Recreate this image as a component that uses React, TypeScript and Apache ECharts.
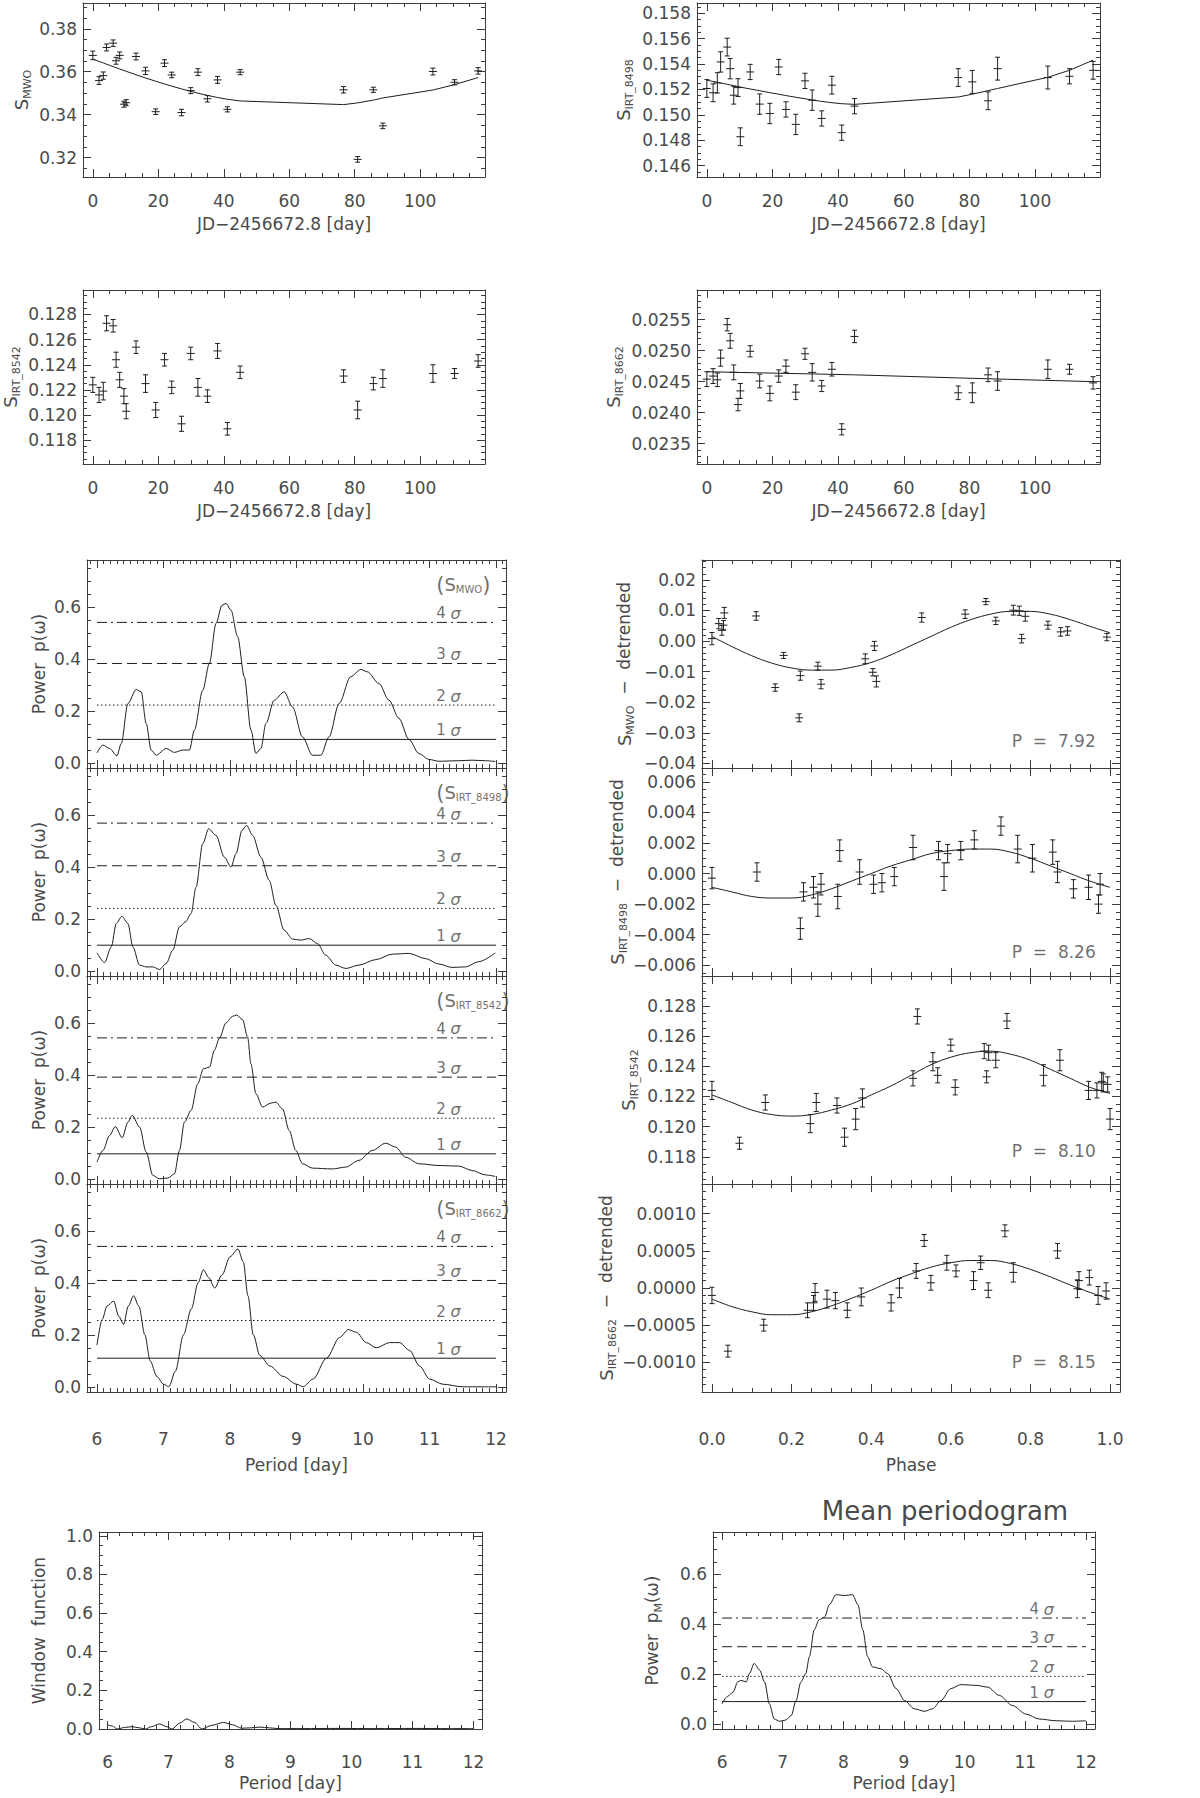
import React, { useEffect, useRef } from "react";
import * as echarts from "echarts";

// ---------------- Time series (JD - 2456672.8) ----------------
const TIMES = [0, 1.9, 3.2, 4.2, 6.2, 7.1, 8.2, 9.5, 10.2, 13.2, 16.1, 19.2, 21.9, 24.1, 27.1, 29.9, 32.1, 35.0, 38.1, 41.1, 45.0, 76.6, 80.9, 85.7, 88.6, 103.9, 110.5, 117.7];

const S_MWO = [0.3676, 0.3559, 0.3582, 0.3713, 0.3733, 0.3651, 0.3676, 0.3449, 0.3456, 0.3671, 0.3604, 0.3414, 0.3640, 0.3585, 0.3410, 0.3512, 0.3598, 0.3474, 0.3562, 0.3425, 0.3598, 0.3516, 0.3192, 0.3516, 0.3348, 0.3601, 0.3551, 0.3604];
const S_MWO_ERR = [0.0020, 0.0018, 0.0017, 0.0016, 0.0015, 0.0016, 0.0016, 0.0014, 0.0014, 0.0016, 0.0017, 0.0013, 0.0016, 0.0013, 0.0015, 0.0014, 0.0016, 0.0015, 0.0016, 0.0012, 0.0012, 0.0015, 0.0013, 0.0012, 0.0013, 0.0016, 0.0012, 0.0015];
const S_MWO_TREND = [0.3659, 0.3648, 0.3641, 0.3635, 0.3624, 0.3619, 0.3613, 0.3606, 0.3602, 0.3586, 0.3571, 0.3556, 0.3543, 0.3533, 0.3520, 0.3509, 0.3500, 0.3490, 0.3480, 0.3472, 0.3464, 0.3447, 0.3455, 0.3468, 0.3478, 0.3515, 0.3540, 0.3573];

const S_8498 = [0.15207, 0.15173, 0.15251, 0.15416, 0.15533, 0.15363, 0.15154, 0.15214, 0.14827, 0.15337, 0.15084, 0.15010, 0.15376, 0.15042, 0.14924, 0.15267, 0.15115, 0.14971, 0.15233, 0.14859, 0.15068, 0.15293, 0.15259, 0.15110, 0.15363, 0.15293, 0.15303, 0.15350];
const S_8498_ERR = [0.0007, 0.0007, 0.0008, 0.0008, 0.0007, 0.0008, 0.0007, 0.0007, 0.0007, 0.0006, 0.0008, 0.0008, 0.0006, 0.0006, 0.0008, 0.0006, 0.0008, 0.0006, 0.0007, 0.0006, 0.0006, 0.0007, 0.0009, 0.0007, 0.0009, 0.0009, 0.0006, 0.0007];
const S_8498_TREND = [0.15272, 0.15262, 0.15256, 0.15250, 0.15240, 0.15235, 0.15229, 0.15222, 0.15218, 0.15203, 0.15189, 0.15174, 0.15162, 0.15151, 0.15138, 0.15126, 0.15116, 0.15105, 0.15095, 0.15087, 0.15082, 0.15140, 0.15162, 0.15190, 0.15207, 0.15295, 0.15350, 0.15430];

const S_8542 = [0.1224, 0.1216, 0.1219, 0.1273, 0.1271, 0.1244, 0.1228, 0.1215, 0.1203, 0.1254, 0.1225, 0.1204, 0.1244, 0.1222, 0.1193, 0.1249, 0.1222, 0.1215, 0.1251, 0.1189, 0.1234, 0.1231, 0.1204, 0.1225, 0.1229, 0.1233, 0.1233, 0.1243];
const S_8542_ERR = [0.0006, 0.0006, 0.0007, 0.0006, 0.0005, 0.0006, 0.0006, 0.0006, 0.0006, 0.0005, 0.0007, 0.0006, 0.0005, 0.0005, 0.0006, 0.0005, 0.0007, 0.0005, 0.0006, 0.0005, 0.0005, 0.0005, 0.0007, 0.0005, 0.0007, 0.0007, 0.0004, 0.0005];

const S_8662 = [0.02454, 0.02459, 0.02453, 0.02488, 0.02542, 0.02516, 0.02465, 0.02413, 0.02435, 0.02499, 0.02451, 0.02431, 0.02459, 0.02475, 0.02433, 0.02495, 0.02465, 0.02443, 0.02470, 0.02373, 0.02523, 0.02432, 0.02432, 0.02461, 0.02451, 0.02470, 0.02470, 0.02448];
const S_8662_ERR = [0.00012, 0.00012, 0.00011, 0.00013, 0.00010, 0.00012, 0.00012, 0.00010, 0.00012, 0.00009, 0.00011, 0.00012, 0.00010, 0.00010, 0.00012, 0.00009, 0.00014, 0.00009, 0.00011, 0.00009, 0.00010, 0.00011, 0.00016, 0.00011, 0.00015, 0.00015, 0.00008, 0.00010];
const TREND_8662_T = [0, 45, 76.6, 117.7];
const TREND_8662_V = [0.02466, 0.02461, 0.02456, 0.02450];

// ---------------- Periodograms ----------------
const PER_MWO = [6.0, 6.09, 6.19, 6.30, 6.365, 6.465, 6.59, 6.665, 6.74, 6.815, 6.89, 7.04, 7.165, 7.29, 7.39, 7.465, 7.59, 7.69, 7.79, 7.88, 7.94, 8.015, 8.115, 8.215, 8.315, 8.39, 8.465, 8.54, 8.665, 8.815, 8.94, 9.09, 9.24, 9.365, 9.49, 9.64, 9.815, 9.965, 10.065, 10.24, 10.39, 10.54, 10.69, 10.84, 10.99, 11.14, 11.44, 11.64, 11.84, 11.99];
const POW_MWO = [0.038, 0.068, 0.055, 0.027, 0.074, 0.228, 0.282, 0.273, 0.151, 0.049, 0.029, 0.055, 0.040, 0.049, 0.049, 0.126, 0.279, 0.382, 0.536, 0.606, 0.613, 0.587, 0.485, 0.331, 0.126, 0.036, 0.055, 0.151, 0.241, 0.273, 0.215, 0.100, 0.029, 0.029, 0.100, 0.228, 0.331, 0.359, 0.350, 0.305, 0.241, 0.171, 0.090, 0.036, 0.013, 0.006, 0.008, 0.010, 0.008, 0.005];
const SIG_MWO = [0.090, 0.222, 0.382, 0.540];

const PER_8498 = [6.0, 6.115, 6.215, 6.29, 6.375, 6.465, 6.54, 6.64, 6.74, 6.84, 6.94, 7.04, 7.14, 7.24, 7.33, 7.415, 7.49, 7.59, 7.68, 7.79, 7.915, 8.015, 8.09, 8.18, 8.25, 8.34, 8.465, 8.59, 8.69, 8.815, 8.94, 9.065, 9.19, 9.315, 9.44, 9.59, 9.74, 9.94, 10.19, 10.44, 10.69, 10.94, 11.14, 11.34, 11.54, 11.74, 11.99];
const POW_8498 = [0.069, 0.032, 0.092, 0.182, 0.210, 0.182, 0.092, 0.022, 0.015, 0.015, 0.005, 0.028, 0.079, 0.169, 0.188, 0.220, 0.322, 0.489, 0.546, 0.521, 0.437, 0.399, 0.450, 0.540, 0.559, 0.521, 0.437, 0.348, 0.252, 0.156, 0.122, 0.118, 0.124, 0.105, 0.060, 0.022, 0.009, 0.022, 0.043, 0.064, 0.067, 0.047, 0.026, 0.013, 0.015, 0.035, 0.069];
const SIG_8498 = [0.0985, 0.240, 0.404, 0.568];

const PER_8542 = [6.0, 6.09, 6.19, 6.275, 6.38, 6.465, 6.53, 6.64, 6.74, 6.84, 6.94, 7.065, 7.165, 7.24, 7.315, 7.415, 7.515, 7.6, 7.69, 7.765, 7.84, 7.94, 8.04, 8.1, 8.19, 8.265, 8.315, 8.39, 8.49, 8.615, 8.69, 8.79, 8.89, 8.99, 9.09, 9.24, 9.54, 9.74, 9.94, 10.14, 10.34, 10.49, 10.64, 10.84, 11.14, 11.44, 11.64, 11.84, 11.99];
const POW_8542 = [0.064, 0.109, 0.167, 0.201, 0.158, 0.218, 0.244, 0.199, 0.103, 0.013, 0.000, 0.003, 0.019, 0.109, 0.218, 0.263, 0.365, 0.423, 0.429, 0.494, 0.540, 0.600, 0.625, 0.630, 0.612, 0.545, 0.442, 0.327, 0.276, 0.291, 0.295, 0.269, 0.186, 0.109, 0.058, 0.041, 0.038, 0.045, 0.071, 0.109, 0.137, 0.122, 0.083, 0.058, 0.051, 0.049, 0.032, 0.015, 0.009];
const SIG_8542 = [0.096, 0.233, 0.391, 0.542];

const PER_8662 = [6.0, 6.08, 6.15, 6.25, 6.33, 6.4, 6.47, 6.55, 6.63, 6.72, 6.8, 6.9, 7.0, 7.08, 7.18, 7.3, 7.42, 7.52, 7.6, 7.68, 7.77, 7.88, 8.0, 8.12, 8.2, 8.27, 8.35, 8.45, 8.6, 8.8, 9.0, 9.1, 9.25, 9.45, 9.65, 9.78, 9.9, 10.05, 10.2, 10.4, 10.55, 10.7, 10.85, 11.0, 11.2, 11.5, 11.8, 12.0];
const POW_8662 = [0.16, 0.26, 0.31, 0.33, 0.27, 0.24, 0.31, 0.35, 0.31, 0.20, 0.10, 0.04, 0.01, 0.00, 0.06, 0.20, 0.30, 0.40, 0.45, 0.42, 0.38, 0.43, 0.50, 0.53, 0.48, 0.35, 0.20, 0.12, 0.08, 0.04, 0.01, 0.00, 0.03, 0.11, 0.19, 0.22, 0.21, 0.17, 0.15, 0.17, 0.17, 0.14, 0.08, 0.03, 0.01, 0.00, 0.00, 0.00];
const SIG_8662 = [0.110, 0.255, 0.409, 0.540];

const PER_WIN = [6.0, 6.08, 6.16, 6.28, 6.4, 6.52, 6.62, 6.72, 6.85, 6.97, 7.06, 7.18, 7.3, 7.42, 7.55, 7.7, 7.9, 8.05, 8.2, 8.35, 8.5, 8.65, 8.8, 9.2, 9.8, 10.4, 11.0, 11.6, 12.0];
const POW_WIN = [0.022, 0.015, 0.0, 0.008, 0.012, 0.006, 0.0, 0.012, 0.026, 0.012, 0.0, 0.030, 0.052, 0.035, 0.0, 0.018, 0.034, 0.022, 0.004, 0.006, 0.010, 0.006, 0.002, 0.002, 0.003, 0.002, 0.003, 0.002, 0.002];

const PER_MEAN = [6.0, 6.09, 6.18, 6.26, 6.31, 6.40, 6.45, 6.53, 6.62, 6.70, 6.78, 6.86, 6.95, 7.05, 7.14, 7.22, 7.30, 7.38, 7.44, 7.52, 7.60, 7.69, 7.77, 7.88, 8.02, 8.15, 8.24, 8.32, 8.40, 8.48, 8.62, 8.73, 8.87, 9.01, 9.17, 9.34, 9.47, 9.61, 9.77, 9.94, 10.19, 10.38, 10.57, 10.79, 11.01, 11.23, 11.51, 11.78, 12.0];
const POW_MEAN = [0.081, 0.111, 0.128, 0.169, 0.175, 0.169, 0.202, 0.243, 0.216, 0.169, 0.081, 0.020, 0.011, 0.016, 0.034, 0.094, 0.169, 0.202, 0.270, 0.378, 0.418, 0.429, 0.479, 0.519, 0.515, 0.519, 0.479, 0.378, 0.270, 0.229, 0.222, 0.202, 0.142, 0.094, 0.061, 0.051, 0.061, 0.094, 0.142, 0.158, 0.155, 0.148, 0.115, 0.074, 0.040, 0.020, 0.013, 0.011, 0.013];
const SIG_MEAN = [0.090, 0.191, 0.310, 0.425];

// ---------------- Phase-folded data ----------------
const PH_MWO = [0.000, 0.017, 0.025, 0.029, 0.031, 0.111, 0.159, 0.180, 0.219, 0.222, 0.266, 0.274, 0.385, 0.404, 0.408, 0.413, 0.527, 0.636, 0.688, 0.713, 0.757, 0.772, 0.778, 0.787, 0.844, 0.876, 0.893, 0.992];
const DT_MWO = [0.0008, 0.0057, 0.0035, 0.0052, 0.0092, 0.0082, -0.0152, -0.0047, -0.0251, -0.0113, -0.0082, -0.0141, -0.0058, -0.0102, -0.0016, -0.0132, 0.0077, 0.0088, 0.0129, 0.0066, 0.0101, 0.0099, 0.0008, 0.0081, 0.0052, 0.0030, 0.0033, 0.0013];
const DT_MWO_ERR = [0.0020, 0.0017, 0.0016, 0.0015, 0.0018, 0.0014, 0.0012, 0.0010, 0.0013, 0.0015, 0.0013, 0.0015, 0.0016, 0.0012, 0.0015, 0.0018, 0.0015, 0.0014, 0.0010, 0.0012, 0.0016, 0.0015, 0.0014, 0.0016, 0.0013, 0.0014, 0.0014, 0.0012];
const FIT_PH = [0.00, 0.05, 0.10, 0.15, 0.20, 0.25, 0.30, 0.35, 0.40, 0.45, 0.50, 0.55, 0.60, 0.65, 0.70, 0.75, 0.80, 0.85, 0.90, 0.95, 1.00];
const FIT_MWO = [0.0015, -0.0018, -0.0048, -0.0072, -0.0088, -0.0095, -0.0095, -0.0086, -0.0070, -0.0045, -0.0015, 0.0015, 0.0045, 0.0070, 0.0088, 0.0097, 0.0097, 0.0088, 0.0070, 0.0048, 0.0027];

const PH_8498 = [0.000, 0.113, 0.222, 0.230, 0.255, 0.266, 0.274, 0.316, 0.321, 0.371, 0.406, 0.427, 0.458, 0.505, 0.569, 0.583, 0.592, 0.625, 0.659, 0.726, 0.768, 0.805, 0.856, 0.868, 0.908, 0.946, 0.971, 0.975];
const DT_8498 = [-0.0003, 0.0001, -0.0036, -0.0012, -0.0009, -0.0020, -0.0007, -0.0015, 0.0015, 0.0001, -0.0007, -0.0006, -0.0002, 0.0017, 0.0015, -0.0002, 0.0013, 0.0015, 0.0022, 0.0031, 0.0016, 0.0010, 0.0014, 0.0001, -0.0010, -0.0009, -0.0020, -0.0007];
const DT_8498_ERR = [0.0007, 0.0006, 0.0007, 0.0006, 0.0007, 0.0008, 0.0007, 0.0008, 0.0007, 0.0008, 0.0006, 0.0006, 0.0006, 0.0008, 0.0006, 0.0009, 0.0006, 0.0006, 0.0006, 0.0006, 0.0009, 0.0009, 0.0008, 0.0007, 0.0006, 0.0008, 0.0006, 0.0007];
const FIT_8498 = [-0.0009, -0.0012, -0.0015, -0.0016, -0.0016, -0.0014, -0.0010, -0.0005, 0.0000, 0.0005, 0.0009, 0.0013, 0.0015, 0.0016, 0.0016, 0.0014, 0.0010, 0.0005, 0.0000, -0.0005, -0.0009];

const PH_8542 = [0.000, 0.069, 0.134, 0.247, 0.262, 0.314, 0.333, 0.361, 0.378, 0.505, 0.516, 0.555, 0.567, 0.600, 0.611, 0.684, 0.690, 0.695, 0.713, 0.741, 0.833, 0.874, 0.946, 0.967, 0.979, 0.983, 0.994, 1.000];
const DT_8542 = [0.1224, 0.1189, 0.1216, 0.1202, 0.1216, 0.1214, 0.1193, 0.1205, 0.1219, 0.1232, 0.1273, 0.1243, 0.1234, 0.1254, 0.1226, 0.1250, 0.1233, 0.1249, 0.1244, 0.1270, 0.1234, 0.1244, 0.1224, 0.1224, 0.1230, 0.1229, 0.1228, 0.1205];
const DT_8542_ERR = [0.0006, 0.0004, 0.0005, 0.0006, 0.0006, 0.0005, 0.0006, 0.0007, 0.0006, 0.0005, 0.0005, 0.0006, 0.0005, 0.0004, 0.0005, 0.0005, 0.0004, 0.0005, 0.0005, 0.0005, 0.0007, 0.0007, 0.0006, 0.0005, 0.0006, 0.0006, 0.0005, 0.0007];
const FIT_8542 = [0.1221, 0.1216, 0.1211, 0.1208, 0.1207, 0.1208, 0.1211, 0.1215, 0.1221, 0.1227, 0.1234, 0.1241, 0.1246, 0.1249, 0.1250, 0.1248, 0.1244, 0.1238, 0.1232, 0.1226, 0.1222];

const PH_8662 = [0.000, 0.040, 0.130, 0.240, 0.255, 0.259, 0.289, 0.310, 0.340, 0.375, 0.450, 0.471, 0.513, 0.533, 0.550, 0.590, 0.613, 0.657, 0.675, 0.694, 0.736, 0.757, 0.868, 0.918, 0.922, 0.948, 0.970, 0.990];
const DT_8662 = [-0.00010, -0.00085, -0.00050, -0.00030, -0.00020, -0.00006, -0.00015, -0.00017, -0.00030, -0.00012, -0.00020, 0.00000, 0.00023, 0.00064, 0.00007, 0.00034, 0.00023, 0.00010, 0.00034, -0.00003, 0.00077, 0.00021, 0.00050, -0.00001, 0.00010, 0.00014, -0.00010, -0.00004];
const DT_8662_ERR = [0.00011, 0.00008, 0.00008, 0.00010, 0.00010, 0.00012, 0.00012, 0.00011, 0.00010, 0.00012, 0.00011, 0.00013, 0.00010, 0.00008, 0.00010, 0.00010, 0.00008, 0.00012, 0.00009, 0.00010, 0.00008, 0.00013, 0.00010, 0.00012, 0.00012, 0.00010, 0.00012, 0.00011];
const FIT_8662 = [-0.00015, -0.00025, -0.00032, -0.00036, -0.00036, -0.00032, -0.00024, -0.00014, -0.00003, 0.00009, 0.00019, 0.00028, 0.00034, 0.00037, 0.00037, 0.00033, 0.00025, 0.00015, 0.00004, -0.00006, -0.00015];

const PERIODS_FOUND = ["7.92", "8.26", "8.10", "8.15"];

// ---------------- Styling ----------------
const FONT = "'DejaVu Sans', 'Liberation Sans', sans-serif";
const TXT = "#4a4a4a";
const INK = "#1e1e1e";
const FRAME = "#3c3c3c";

const RICH: any = {
  s: { fontSize: 18, lineHeight: 24, color: TXT, fontFamily: FONT },
  sub: { fontSize: 11, lineHeight: 12, verticalAlign: "bottom", color: TXT, fontFamily: FONT },
  t: { fontSize: 17, lineHeight: 24, color: TXT, fontFamily: FONT },
  p: { fontSize: 21, lineHeight: 20, color: TXT, fontFamily: FONT },
  ps: { fontSize: 18, lineHeight: 18, color: TXT, fontFamily: FONT },
  psub: { fontSize: 10, lineHeight: 9, verticalAlign: "bottom", color: TXT, fontFamily: FONT },
  i: { fontSize: 16, fontStyle: "italic", color: TXT, fontFamily: FONT },
};

function zip(xs: number[], ys: number[]) {
  const n = Math.min(xs.length, ys.length);
  const out: number[][] = [];
  for (let i = 0; i < n; i++) out.push([xs[i], ys[i]]);
  return out;
}

type AxisCfg = {
  min: number; max: number; step: number; minor: number; dec: number;
  name?: string; nameGap?: number; margin?: number; labels?: boolean;
};

function buildOption() {
  const grid: any[] = [];
  const xAxis: any[] = [];
  const yAxis: any[] = [];
  const series: any[] = [];
  const graphic: any[] = [];

  const fmt = (c: AxisCfg) => (v: number) => {
    const k = v / c.step;
    if (Math.abs(k - Math.round(k)) > 1e-6) return "";
    const val = Math.abs(v) < c.step * 1e-6 ? 0 : v;
    return val.toFixed(c.dec).replace("-", "\u2212");
  };

  const axis = (dim: "x" | "y", pos: string, gi: number, c: AxisCfg, primary: boolean) => ({
    type: "value",
    gridIndex: gi,
    position: pos,
    min: c.min,
    max: c.max,
    minInterval: c.step,
    maxInterval: c.step,
    splitNumber: Math.max(1, Math.round((c.max - c.min) / c.step)),
    axisLine: { show: true, onZero: false, lineStyle: { color: FRAME, width: 1 } },
    axisTick: { show: true, inside: true, length: 8, lineStyle: { color: FRAME, width: 1 } },
    minorTick: { show: true, splitNumber: c.minor, length: 4, lineStyle: { color: FRAME, width: 1 } },
    splitLine: { show: false },
    minorSplitLine: { show: false },
    axisLabel: {
      show: primary && c.labels !== false,
      margin: c.margin ?? (dim === "y" ? 6 : 15),
      fontSize: 17,
      color: TXT,
      fontFamily: FONT,
      formatter: fmt(c),
    },
    name: primary ? c.name : undefined,
    nameLocation: "middle",
    nameGap: c.nameGap ?? 30,
    nameRotate: dim === "y" ? 90 : 0,
    nameTextStyle: { fontSize: 17, color: TXT, fontFamily: FONT, rich: RICH },
  });

  const panel = (rect: number[], xc: AxisCfg, yc: AxisCfg) => {
    const gi = grid.length;
    grid.push({ left: rect[0], top: rect[1], width: rect[2], height: rect[3], containLabel: false, outerBoundsMode: "none" });
    const xi = xAxis.length;
    xAxis.push(axis("x", "bottom", gi, xc, true));
    xAxis.push(axis("x", "top", gi, xc, false));
    const yi = yAxis.length;
    yAxis.push(axis("y", "left", gi, yc, true));
    yAxis.push(axis("y", "right", gi, yc, false));
    return { xi, yi };
  };

  const lineS = (ax: any, xs: number[], ys: number[], extra: any = {}) => ({
    type: "line",
    xAxisIndex: ax.xi,
    yAxisIndex: ax.yi,
    data: zip(xs, ys),
    showSymbol: false,
    symbol: "none",
    silent: true,
    lineStyle: { color: INK, width: 1 },
    ...extra,
  });

  const errS = (ax: any, xs: number[], ys: number[], es: number[]) => ({
    type: "custom",
    xAxisIndex: ax.xi,
    yAxisIndex: ax.yi,
    silent: true,
    clip: true,
    encode: { x: 0, y: 1 },
    data: xs.map((x, i) => [x, ys[i], es[i]]),
    renderItem: (_p: any, api: any) => {
      const x = api.value(0), y = api.value(1), e = api.value(2);
      const c = api.coord([x, y]);
      const t = api.coord([x, y + e]);
      const b = api.coord([x, y - e]);
      const st = { stroke: INK, lineWidth: 1 };
      return {
        type: "group",
        children: [
          { type: "line", shape: { x1: c[0], y1: t[1], x2: c[0], y2: b[1] }, style: st },
          { type: "line", shape: { x1: c[0] - 2.5, y1: t[1], x2: c[0] + 2.5, y2: t[1] }, style: st },
          { type: "line", shape: { x1: c[0] - 2.5, y1: b[1], x2: c[0] + 2.5, y2: b[1] }, style: st },
          { type: "line", shape: { x1: c[0] - 4, y1: c[1], x2: c[0] + 4, y2: c[1] }, style: st },
        ],
      };
    },
  });

  const textS = (ax: any, items: { x: number; y: number; text: string }[], fontSize = 17, offset = [0, 0]) => ({
    type: "scatter",
    xAxisIndex: ax.xi,
    yAxisIndex: ax.yi,
    silent: true,
    symbolSize: 0.1,
    itemStyle: { color: "rgba(0,0,0,0)" },
    data: items.map((it) => ({ value: [it.x, it.y], label: { formatter: it.text } })),
    label: {
      show: true,
      position: "right",
      distance: 0,
      offset,
      fontSize,
      lineHeight: fontSize + 2,
      color: TXT,
      fontFamily: FONT,
      rich: RICH,
    },
  });

  const DASHES: any[] = ["solid", [1.5, 2.5], [10, 5], [10, 4, 2, 4]];
  const sigma = (ax: any, levels: number[], lx: number) => {
    levels.forEach((lv, k) => {
      series.push(lineS(ax, [6, 12], [lv, lv], { lineStyle: { color: INK, width: 1, type: DASHES[k] } }));
    });
    series.push(
      textS(ax, levels.map((lv, k) => ({ x: lx, y: lv, text: `${k + 1} {i|σ}` })), 15, [0, -9])
    );
  };

  // ---------- time plots ----------
  const tX = (name?: string): AxisCfg => ({ min: -3, max: 119.8, step: 20, minor: 4, dec: 0, name, nameGap: 38 });
  const jd = "JD\u22122456672.8 [day]";

  const A = panel([83, 3, 402, 174], tX(jd), { min: 0.311, max: 0.392, step: 0.02, minor: 4, dec: 2, name: "{s|S}{sub|MWO}", nameGap: 50 });
  series.push(errS(A, TIMES, S_MWO, S_MWO_ERR));
  series.push(lineS(A, TIMES, S_MWO_TREND));

  const B = panel([697, 3, 403, 174], tX(jd), { min: 0.1451, max: 0.1588, step: 0.002, minor: 4, dec: 3, name: "{s|S}{sub|IRT_8498}", nameGap: 62 });
  series.push(errS(B, TIMES, S_8498, S_8498_ERR));
  series.push(lineS(B, TIMES, S_8498_TREND));

  const C = panel([83, 290, 402, 174], tX(jd), { min: 0.1161, max: 0.12995, step: 0.002, minor: 4, dec: 3, name: "{s|S}{sub|IRT_8542}", nameGap: 61 });
  series.push(errS(C, TIMES, S_8542, S_8542_ERR));

  const D = panel([697, 290, 403, 174], tX(jd), { min: 0.02317, max: 0.02598, step: 0.0005, minor: 5, dec: 4, name: "{s|S}{sub|IRT_8662}", nameGap: 72 });
  series.push(errS(D, TIMES, S_8662, S_8662_ERR));
  series.push(lineS(D, TREND_8662_T, TREND_8662_V));

  // ---------- stacked periodograms ----------
  const pers = [
    { x: PER_MWO, y: POW_MWO, s: SIG_MWO, lab: "{p|(}{ps|S}{psub|MWO}{p|)}" },
    { x: PER_8498, y: POW_8498, s: SIG_8498, lab: "{p|(}{ps|S}{psub|IRT_8498}{p|)}" },
    { x: PER_8542, y: POW_8542, s: SIG_8542, lab: "{p|(}{ps|S}{psub|IRT_8542}{p|)}" },
    { x: PER_8662, y: POW_8662, s: SIG_8662, lab: "{p|(}{ps|S}{psub|IRT_8662}{p|)}" },
  ];
  const phs = [
    { x: PH_MWO, y: DT_MWO, e: DT_MWO_ERR, f: FIT_MWO, yc: { min: -0.0415, max: 0.0265, step: 0.01, minor: 5, dec: 2, name: "{s|S}{sub|MWO}{t|  \u2212  detrended}", nameGap: 66 }, py: -0.0326 },
    { x: PH_8498, y: DT_8498, e: DT_8498_ERR, f: FIT_8498, yc: { min: -0.0067, max: 0.0069, step: 0.002, minor: 4, dec: 3, name: "{s|S}{sub|IRT_8498}{t|  \u2212  detrended}", nameGap: 68 }, py: -0.00514 },
    { x: PH_8542, y: DT_8542, e: DT_8542_ERR, f: FIT_8542, yc: { min: 0.1162, max: 0.12998, step: 0.002, minor: 4, dec: 3, name: "{s|S}{sub|IRT_8542}", nameGap: 62 }, py: 0.11837 },
    { x: PH_8662, y: DT_8662, e: DT_8662_ERR, f: FIT_8662, yc: { min: -0.0014, max: 0.0014, step: 0.0005, minor: 5, dec: 4, name: "{s|S}{sub|IRT_8662}{t|  \u2212  detrended}", nameGap: 80 }, py: -0.00099 },
  ];

  for (let i = 0; i < 4; i++) {
    const top = 560 + 208 * i;
    const last = i === 3;
    const P = panel(
      [87, top, 419, 208],
      { min: 5.85, max: 12.15, step: 1, minor: 10, dec: 0, labels: last, name: last ? "Period [day]" : undefined, nameGap: 64, margin: 38 },
      { min: -0.02, max: 0.78, step: 0.2, minor: 4, dec: 1, name: "Power  p(\u03c9)", nameGap: 40 }
    );
    series.push(lineS(P, pers[i].x, pers[i].y, { smooth: 0.3, smoothMonotone: "x" }));
    sigma(P, pers[i].s, 11.1);
    series.push(textS(P, [{ x: 11.1, y: 0.685, text: pers[i].lab }], 17));

    const ph = phs[i];
    const F = panel(
      [702, top, 418, 208],
      { min: -0.025, max: 1.025, step: 0.2, minor: 4, dec: 1, labels: last, name: last ? "Phase" : undefined, nameGap: 64, margin: 38 },
      ph.yc as AxisCfg
    );
    series.push(lineS(F, FIT_PH, ph.f, { smooth: 0.4 }));
    series.push(errS(F, ph.x, ph.y, ph.e));
    series.push(textS(F, [{ x: 0.753, y: ph.py, text: `P  =  ${PERIODS_FOUND[i]}` }], 17));
  }

  // ---------- window function ----------
  const W = panel(
    [99, 1532, 383, 197],
    { min: 5.86, max: 12.14, step: 1, minor: 5, dec: 0, name: "Period [day]", nameGap: 45, margin: 24 },
    { min: 0, max: 1.02, step: 0.2, minor: 4, dec: 1, name: "Window  function", nameGap: 52 }
  );
  series.push(lineS(W, PER_WIN, POW_WIN, { smooth: 0.3, smoothMonotone: "x" }));

  // ---------- mean periodogram ----------
  const M = panel(
    [713, 1532, 382, 197],
    { min: 5.85, max: 12.15, step: 1, minor: 5, dec: 0, name: "Period [day]", nameGap: 45, margin: 24 },
    { min: -0.02, max: 0.77, step: 0.2, minor: 4, dec: 1, name: "{t|Power  p}{sub|M}{t|(\u03c9)}", nameGap: 49 }
  );
  series.push(lineS(M, PER_MEAN, POW_MEAN, { smooth: 0.3, smoothMonotone: "x" }));
  sigma(M, SIG_MEAN, 11.07);

  graphic.push({
    type: "text",
    x: 945,
    y: 1511,
    silent: true,
    style: { text: "Mean periodogram", fontSize: 26, fill: TXT, fontFamily: FONT, align: "center", verticalAlign: "middle" },
  });

  return {
    animation: false,
    backgroundColor: "#ffffff",
    grid,
    xAxis,
    yAxis,
    series,
    graphic,
  };
}

export default function App() {
  const ref = useRef<HTMLDivElement>(null);
  useEffect(() => {
    document.body.style.margin = "0";
    if (!ref.current) return;
    const chart = echarts.init(ref.current, undefined, { renderer: "svg" });
    chart.setOption(buildOption() as any);
    return () => chart.dispose();
  }, []);
  return <div ref={ref} style={{ width: 1200, height: 1798, background: "#fff" }} />;
}
